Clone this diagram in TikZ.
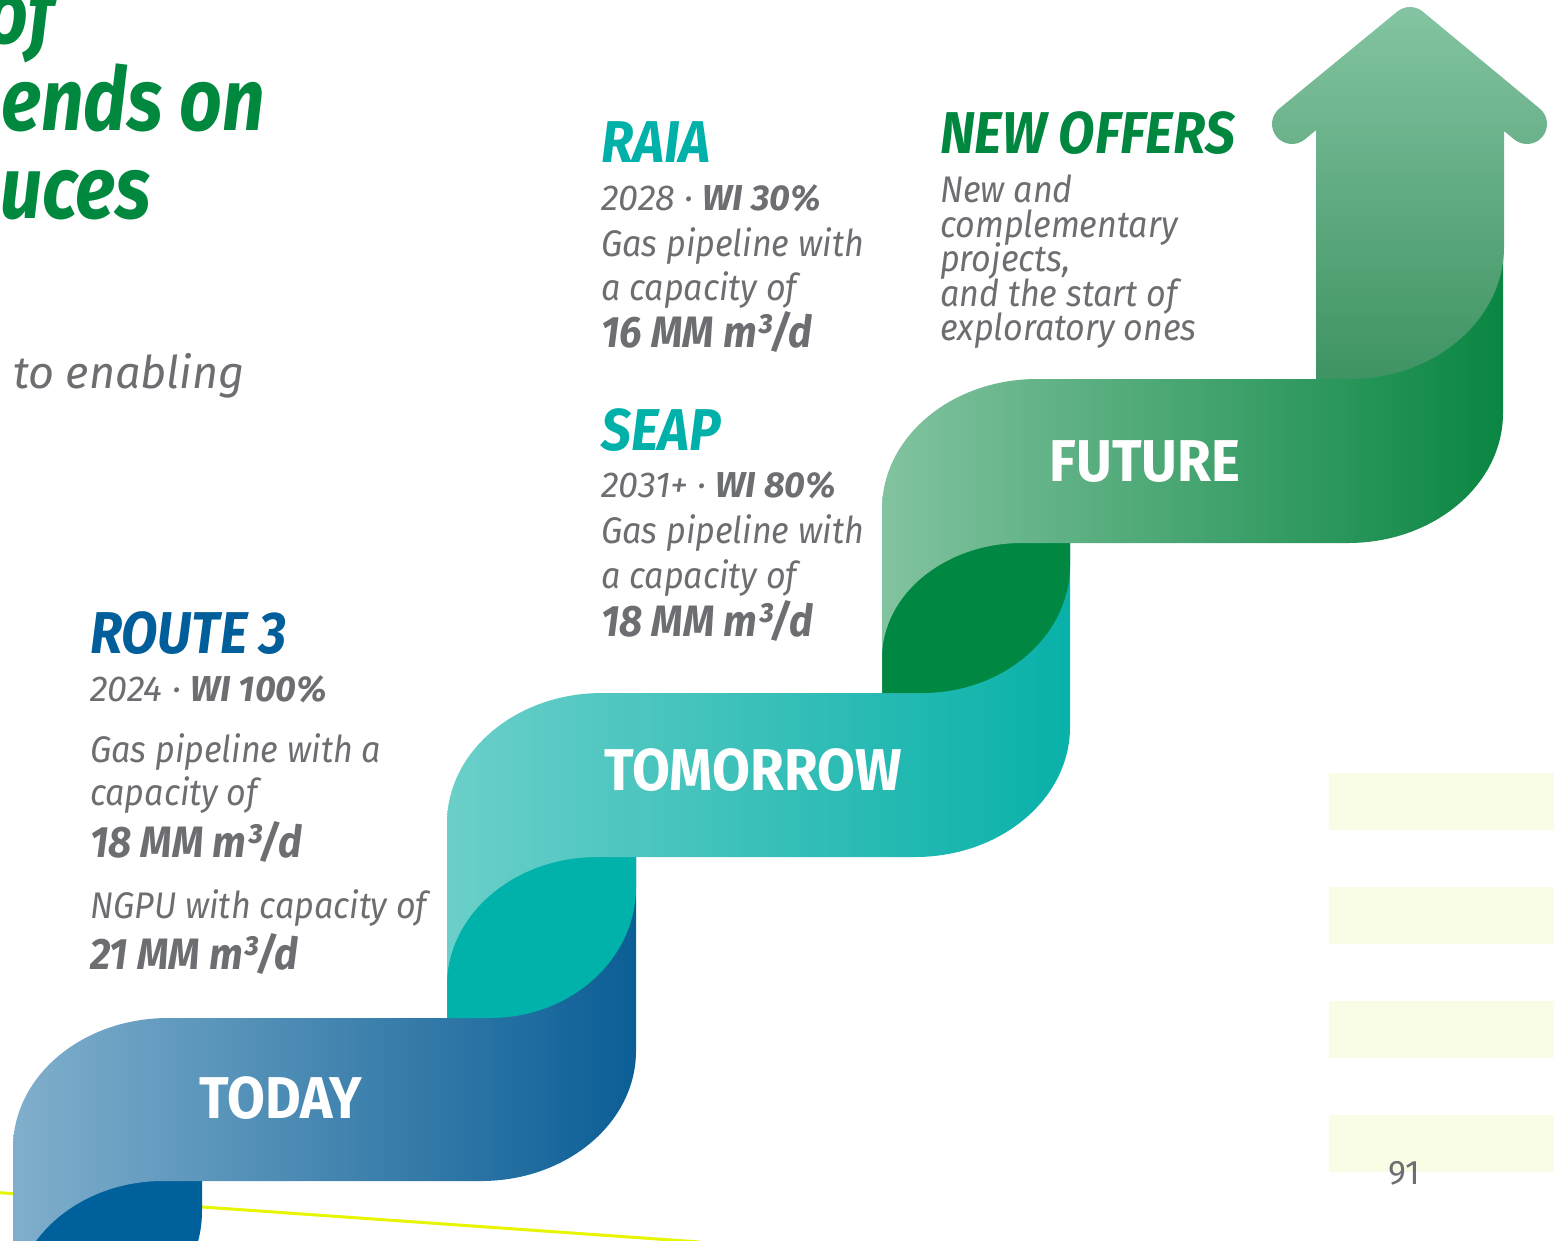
\documentclass[tikz,border=0pt]{standalone}
\usepackage{fontspec}
\setmainfont{Fira Sans}
\newfontfamily\narrowfont[FakeStretch=0.9]{Fira Sans}
\newfontfamily\bodyfont[FakeStretch=0.92]{Fira Sans}
\newfontfamily\bandfont[FakeStretch=0.93]{Fira Sans}
\newfontfamily\headfont[FakeStretch=0.85]{Fira Sans}

\definecolor{inkgray}{HTML}{6D6E71}
\definecolor{headgreen}{HTML}{00883F}
\definecolor{routeblue}{HTML}{005F9B}
\definecolor{raiateal}{HTML}{00B1A9}
\definecolor{offergreen}{HTML}{00873F}
\definecolor{todaylight}{HTML}{80AFCC}
\definecolor{todaymid}{HTML}{5489B0}
\definecolor{todaydeep}{HTML}{0B5E96}
\definecolor{todaydark}{HTML}{00609B}
\definecolor{tomlight}{HTML}{6BCFC9}
\definecolor{tommid}{HTML}{40BEB7}
\definecolor{tomdeep}{HTML}{08B1A9}
\definecolor{tomorrowdark}{HTML}{00B2AA}
\definecolor{futlight}{HTML}{82C3A0}
\definecolor{futmid}{HTML}{62AA82}
\definecolor{futdeep}{HTML}{0A8642}
\definecolor{futuredark}{HTML}{008742}
\definecolor{arrowtop}{HTML}{84C4A2}
\definecolor{arrowbottom}{HTML}{3E9363}
\definecolor{stripeyellow}{HTML}{FAFDE5}
\definecolor{lineyellow}{HTML}{E8F500}

\tikzset{
  txt/.style={anchor=base west, inner sep=0pt, text=inkgray,
    font=\bodyfont\fontsize{37}{40}\selectfont\itshape},
  yeartxt/.style={anchor=base west, inner sep=0pt, text=inkgray,
    font=\fontsize{36}{40}\selectfont\itshape},
  strong/.style={anchor=base west, inner sep=0pt, text=inkgray,
    font=\bodyfont\fontsize{44}{46}\selectfont\bfseries\itshape},
  ttl/.style={anchor=base west, inner sep=0pt,
    font=\narrowfont\fontsize{59}{62}\selectfont\bfseries\itshape},
  headline/.style={inner sep=0pt, text=headgreen,
    font=\headfont\fontsize{88}{90}\selectfont\bfseries\itshape},
  bandlabel/.style={anchor=base, inner sep=0pt, text=white,
    font=\bandfont\fontsize{59}{60}\selectfont\bfseries},
  stripe/.style={fill=stripeyellow}
}

\begin{document}
\begin{tikzpicture}[x=1pt,y=-1pt]
\useasboundingbox (0,0) rectangle (1554,1240);
\fill[white] (0,0) rectangle (1554,1240);

% pale stripes at the right margin
\fill[stripe] (1329,773) rectangle (1554,830);
\fill[stripe] (1329,887) rectangle (1554,944);
\fill[stripe] (1329,1001) rectangle (1554,1058);
\fill[stripe] (1329,1115) rectangle (1554,1172);

% thin yellow rule along the bottom
\coordinate (ruleA) at (-10,1192);
\coordinate (ruleB) at (700,1242);
\draw[line width=3pt, lineyellow] (ruleA) -- (ruleB);

% back side of the TODAY ribbon below the band
\fill[todaydark] (13,1181) -- (202,1181) -- (202,1211)
  .. controls (202,1283.4) and (136.6,1342) .. (56,1342) -- (13,1342) -- cycle;

% TODAY ribbon
\shade[left color=todaylight, middle color=todaymid, right color=todaydeep]
  (13,1345) -- (13,1148) .. controls (13,1076.2) and (82.4,1018) .. (168,1018)
  -- (447,1018) -- (447,857) -- (636,857) -- (636,1051)
  .. controls (636,1122.8) and (566.6,1181) .. (481,1181)
  -- (163,1181) .. controls (80.2,1181) and (13,1238.3) .. (13,1309) -- cycle;

% back side of the TOMORROW ribbon
\fill[tomorrowdark] (447,1018) -- (490,1018)
  .. controls (570.6,1018) and (636,959.4) .. (636,887)
  -- (636,857) -- (447,857) -- cycle;

% TOMORROW ribbon
\shade[left color=tomlight, middle color=tommid, right color=tomdeep]
  (447,1018) -- (447,823) .. controls (447,751.2) and (516.4,693) .. (602,693)
  -- (882,693) -- (882,543) -- (1070,543) -- (1070,727)
  .. controls (1070,798.8) and (1000.6,857) .. (915,857)
  -- (597,857) .. controls (514.2,857) and (447,914.3) .. (447,985) -- cycle;

% back side of the FUTURE ribbon
\fill[futuredark] (882,693) -- (922,693)
  .. controls (1003.7,693) and (1070,635.7) .. (1070,565)
  -- (1070,543) -- (882,543) -- cycle;

% FUTURE ribbon
\shade[left color=futlight, middle color=futmid, right color=futdeep]
  (882,693) -- (882,509) .. controls (882,437.2) and (951.4,379) .. (1037,379)
  -- (1316,379) -- (1316,250) -- (1503,250) -- (1503,413)
  .. controls (1503,484.8) and (1433.6,543) .. (1348,543)
  -- (1022,543) .. controls (944.7,543) and (882,594.5) .. (882,658) -- cycle;

% upward arrow with rounded head
\shade[top color=arrowtop, bottom color=arrowbottom]
  (1316,379) -- (1316,130.2) -- (1304.7,139.45)
  arc[start angle=50.6, end angle=230.6, radius=20]
  -- (1397.3,11.55) arc[start angle=230.6, end angle=309.4, radius=20]
  -- (1539.7,108.55) arc[start angle=-50.6, end angle=129.4, radius=20]
  -- (1504,131) -- (1504,247)
  .. controls (1504,319.3) and (1435,379) .. (1350,379) -- cycle;

% ribbon labels
\node[bandlabel] (today) at (281,1118) {TODAY};
\node[bandlabel] (tomorrow) at (753,790) {TOMORROW};
\node[bandlabel] (future) at (1145,481) {FUTURE};

% heading fragments
\node[headline, anchor=base east] (hA) at (55,43) {of};
\node[headline, anchor=base west] (hB) at (1,130) {ends on};
\node[headline, anchor=base west] (hC) at (0,218) {uces};
\node[anchor=base west, inner sep=0pt, text=inkgray,
  font=\fontsize{45}{46}\selectfont\itshape] (lead) at (13,388) {to enabling};

% ROUTE 3
\node[ttl, text=routeblue] (r3) at (90,653) {ROUTE 3};
\node[yeartxt] (r3a) at (90,701) {2024 · {\bfseries WI 100\%}};
\node[txt] (r3b) at (90,762) {Gas pipeline with a};
\node[txt] (r3c) at (90,805) {capacity of};
\node[strong] (r3d) at (90,857) {18 MM m³/d};
\node[txt] (r3e) at (90,918) {NGPU with capacity of};
\node[strong] (r3f) at (90,969) {21 MM m³/d};

% RAIA
\node[ttl, text=raiateal] (raia) at (601,162) {RAIA};
\node[yeartxt] (raa) at (601,210) {2028 · {\bfseries WI 30\%}};
\node[txt] (rab) at (601,256) {Gas pipeline with};
\node[txt] (rac) at (601,300) {a capacity of};
\node[strong] (rad) at (601,347) {16 MM m³/d};

% SEAP
\node[ttl, text=raiateal] (seap) at (601,450) {SEAP};
\node[yeartxt] (sea) at (601,497) {2031+ · {\bfseries WI 80\%}};
\node[txt] (seb) at (601,543) {Gas pipeline with};
\node[txt] (sec) at (601,588) {a capacity of};
\node[strong] (sed) at (601,636) {18 MM m³/d};

% NEW OFFERS
\node[ttl, text=offergreen] (offers) at (940,153) {NEW OFFERS};
\node[txt] (ofa) at (940,202) {New and};
\node[txt] (ofb) at (940,237) {complementary};
\node[txt] (ofc) at (940,271) {projects,};
\node[txt] (ofd) at (940,306) {and the start of};
\node[txt] (ofe) at (940,340) {exploratory ones};

% page number
\node[anchor=base, inner sep=0pt, text=inkgray, font=\fontsize{34}{36}\selectfont]
  (page) at (1404,1184) {91};
\end{tikzpicture}
\end{document}
